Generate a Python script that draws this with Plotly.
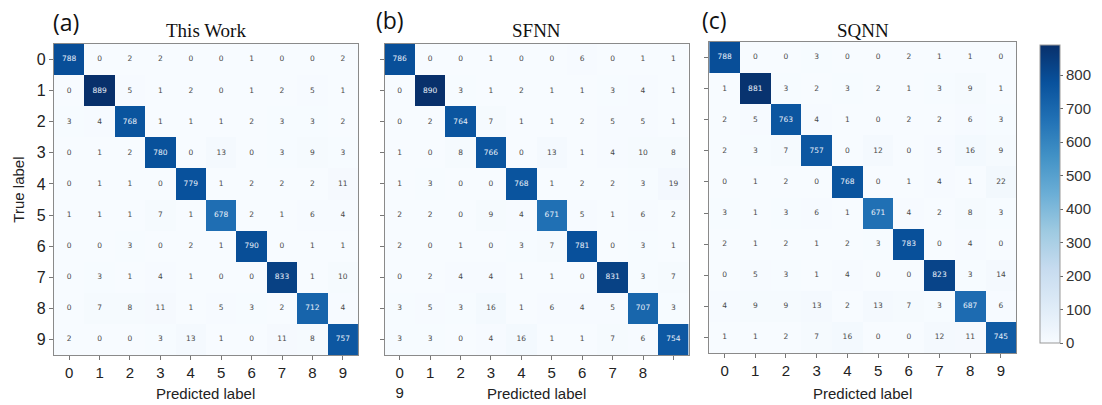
import plotly.graph_objects as go

labels = [str(i) for i in range(10)]

cm_this_work = [
    [788, 0, 2, 2, 0, 0, 1, 0, 0, 2],
    [0, 889, 5, 1, 2, 0, 1, 2, 5, 1],
    [3, 4, 768, 1, 1, 1, 2, 3, 3, 2],
    [0, 1, 2, 780, 0, 13, 0, 3, 9, 3],
    [0, 1, 1, 0, 779, 1, 2, 2, 2, 11],
    [1, 1, 1, 7, 1, 678, 2, 1, 6, 4],
    [0, 0, 3, 0, 2, 1, 790, 0, 1, 1],
    [0, 3, 1, 4, 1, 0, 0, 833, 1, 10],
    [0, 7, 8, 11, 1, 5, 3, 2, 712, 4],
    [2, 0, 0, 3, 13, 1, 0, 11, 8, 757],
]

cm_sfnn = [
    [786, 0, 0, 1, 0, 0, 6, 0, 1, 1],
    [0, 890, 3, 1, 2, 1, 1, 3, 4, 1],
    [0, 2, 764, 7, 1, 1, 2, 5, 5, 1],
    [1, 0, 8, 766, 0, 13, 1, 4, 10, 8],
    [1, 3, 0, 0, 768, 1, 2, 2, 3, 19],
    [2, 2, 0, 9, 4, 671, 5, 1, 6, 2],
    [2, 0, 1, 0, 3, 7, 781, 0, 3, 1],
    [0, 2, 4, 4, 1, 1, 0, 831, 3, 7],
    [3, 5, 3, 16, 1, 6, 4, 5, 707, 3],
    [3, 3, 0, 4, 16, 1, 1, 7, 6, 754],
]

cm_sqnn = [
    [788, 0, 0, 3, 0, 0, 2, 1, 1, 0],
    [1, 881, 3, 2, 3, 2, 1, 3, 9, 1],
    [2, 5, 763, 4, 1, 0, 2, 2, 6, 3],
    [2, 3, 7, 757, 0, 12, 0, 5, 16, 9],
    [0, 1, 2, 0, 768, 0, 1, 4, 1, 22],
    [3, 1, 3, 6, 1, 671, 4, 2, 8, 3],
    [2, 1, 2, 1, 2, 3, 783, 0, 4, 0],
    [0, 5, 3, 1, 4, 0, 0, 823, 3, 14],
    [4, 9, 9, 13, 2, 13, 7, 3, 687, 6],
    [1, 1, 2, 7, 16, 0, 0, 12, 11, 745],
]

titles = ["This Work", "SFNN", "SQNN"]
panel_tags = ["(a)", "(b)", "(c)"]
colorbar_ticks = [0, 100, 200, 300, 400, 500, 600, 700, 800]

blues = [
    [0.0, "rgb(247,251,255)"], [0.125, "rgb(222,235,247)"], [0.25, "rgb(198,219,239)"],
    [0.375, "rgb(158,202,225)"], [0.5, "rgb(107,174,214)"], [0.625, "rgb(66,146,198)"],
    [0.75, "rgb(33,113,181)"], [0.875, "rgb(8,81,156)"], [1.0, "rgb(8,48,107)"],
]

W, H = 1102, 405
# panel boxes in pixels (left, right, top, bottom)
boxes = [(55, 365, 44, 355), (392, 702, 44, 355), (723, 1036, 42, 353)]

def px_x(v):
    return v / W

def px_y(v):
    return 1 - v / H

fig = go.Figure()
mats = [cm_this_work, cm_sfnn, cm_sqnn]
zmax = max(max(max(r) for r in m) for m in mats)

for i, (m, box) in enumerate(zip(mats, boxes)):
    ax = "" if i == 0 else str(i + 1)
    xa, ya = "x" + ax, "y" + ax
    fig.add_trace(go.Heatmap(
        z=m, x=list(range(10)), y=list(range(10)),
        colorscale=blues, zmin=0, zmax=zmax,
        showscale=(i == 2),
        xaxis=xa, yaxis=ya, hoverinfo="skip",
        colorbar=dict(
            x=px_x(1050), xanchor="left", thickness=20,
            y=px_y(353), yanchor="bottom", len=(353 - 35) / H, lenmode="fraction",
            tickvals=colorbar_ticks, ticks="outside", ticklen=3, tickcolor="#666",
            outlinecolor="#999", outlinewidth=1,
            tickfont=dict(family="Liberation Sans, Arial", size=15, color="#333"),
        ) if i == 2 else None,
    ))
    thr = zmax / 2
    for dark in (False, True):
        xs, ys, ts = [], [], []
        for r in range(10):
            for c in range(10):
                if (m[r][c] > thr) == dark:
                    xs.append(c); ys.append(r); ts.append(str(m[r][c]))
        fig.add_trace(go.Scatter(
            x=xs, y=ys, text=ts, mode="text", xaxis=xa, yaxis=ya,
            textfont=dict(family="DejaVu Sans", size=7.5,
                          color="#e8f0fa" if dark else "#4a4a4a"),
            hoverinfo="skip", showlegend=False,
        ))

    l, r_, t, b = box
    if i == 1:
        xtext = ["0<br>9"] + labels[1:9] + [""]
    else:
        xtext = labels
    common = dict(showgrid=False, zeroline=False, showline=True, mirror=True,
                  linecolor="#8a8a8a", linewidth=1, ticks="outside", ticklen=4,
                  tickcolor="#777", tickwidth=1)
    fig.update_layout(**{
        "xaxis" + ax: dict(domain=[px_x(l), px_x(r_)], range=[-0.5, 9.5], anchor=ya,
                           tickvals=list(range(10)), ticktext=xtext,
                           tickfont=dict(family="Liberation Sans, Arial", size=15, color="#222"),
                           **common),
        "yaxis" + ax: dict(domain=[px_y(b), px_y(t)], range=[9.5, -0.5], anchor=xa,
                           tickvals=list(range(10)),
                           ticktext=labels if i == 0 else [""] * 10,
                           tickfont=dict(family="Liberation Sans, Arial", size=16, color="#222"),
                           **common),
    })
    cx = (l + r_) / 2
    fig.add_annotation(x=px_x(cx), y=px_y(31), xref="paper", yref="paper",
                       xanchor="center", yanchor="middle",
                       text=titles[i], showarrow=False,
                       font=dict(family="Liberation Serif, Times New Roman", size=19, color="#111"))
    fig.add_annotation(x=px_x(cx), y=px_y(393), xref="paper", yref="paper",
                       xanchor="center", yanchor="middle",
                       text="Predicted label", showarrow=False,
                       font=dict(family="Liberation Sans, Arial", size=15, color="#222"))

tag_pos = [(67, 22), (398, 20), (728, 20)]
for tag, (tx, ty) in zip(panel_tags, tag_pos):
    fig.add_annotation(x=px_x(tx), y=px_y(ty), xref="paper", yref="paper",
                       xanchor="center", yanchor="middle",
                       text=tag, showarrow=False,
                       font=dict(family="Open Sans", size=23, color="#111"))

fig.add_annotation(x=px_x(18), y=px_y(190), xref="paper", yref="paper",
                   xanchor="center", yanchor="middle",
                   text="True label", textangle=-90, showarrow=False,
                   font=dict(family="Liberation Sans, Arial", size=15, color="#222"))

fig.update_layout(width=W, height=H, margin=dict(l=0, r=0, t=0, b=0),
                  paper_bgcolor="white", plot_bgcolor="white", showlegend=False)

fig.write_html("out.html")
